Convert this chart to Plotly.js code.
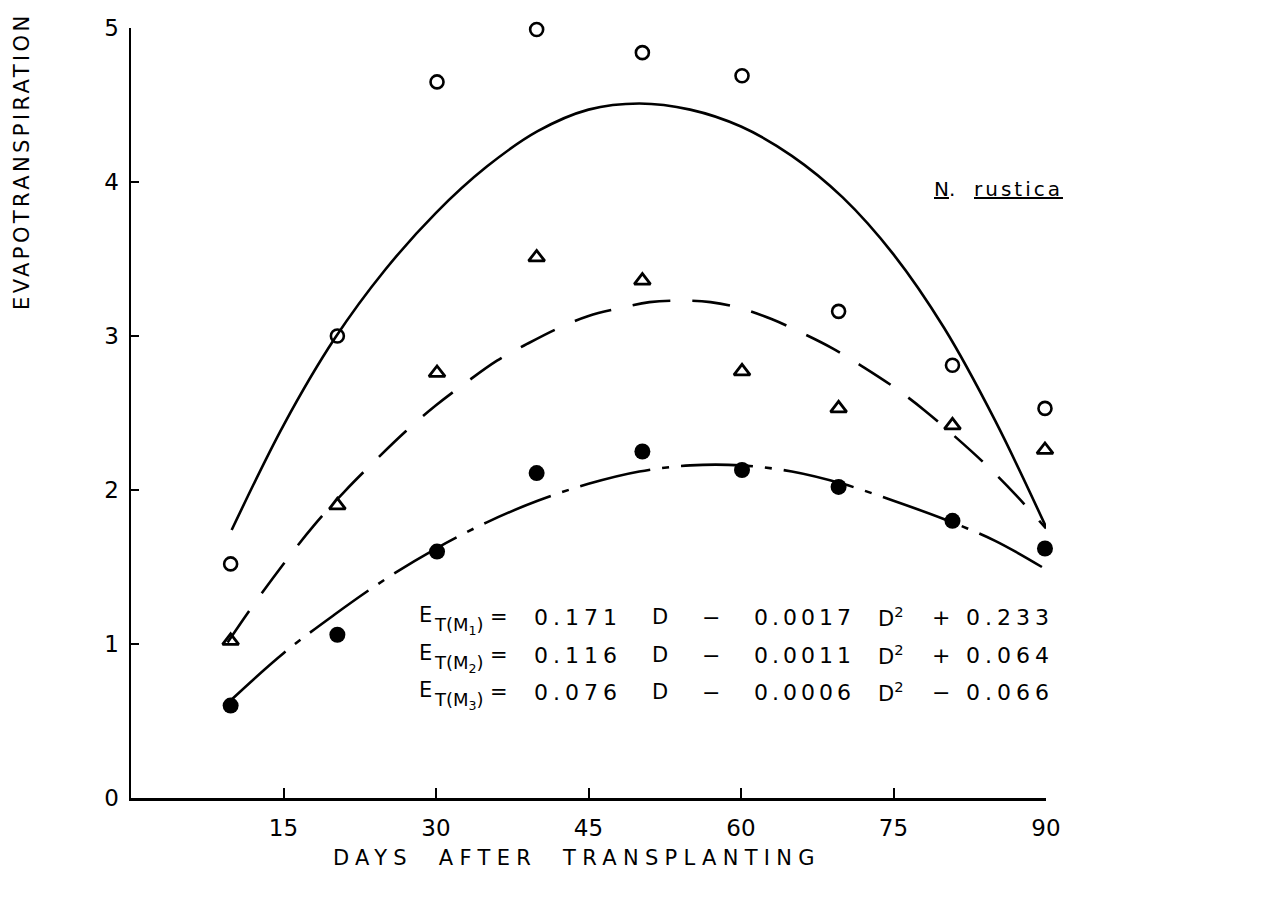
<!DOCTYPE html>
<html>
<head>
<meta charset="utf-8">
<script src="https://cdn.plot.ly/plotly-3.0.1.min.js"></script>
<style>
  html, body { margin: 0; padding: 0; background: #fff; }
  #chart { width: 1270px; height: 905px; }
</style>
</head>
<body>
<div id="chart"></div>
<script>
// ---- Observed data (days after transplanting) ----
const days = [9.8, 20.3, 30.1, 39.9, 50.3, 60.1, 69.6, 80.8, 89.9];
const etM1 = [1.52, 3.00, 4.65, 4.99, 4.84, 4.69, 3.16, 2.81, 2.53];
const etM2 = [1.02, 1.90, 2.76, 3.51, 3.36, 2.77, 2.53, 2.42, 2.26];
const etM3 = [0.60, 1.06, 1.60, 2.11, 2.25, 2.13, 2.02, 1.80, 1.62];

// ---- Fitted curves as drawn ----
const fitM1Days = [9.9, 15, 20, 25, 30, 35, 40, 45, 50, 55, 60, 65, 70, 75, 80, 85, 90];
const fitM1 = [1.74, 2.42, 2.98, 3.43, 3.80, 4.10, 4.33, 4.47, 4.51, 4.47, 4.36, 4.17, 3.90, 3.53, 3.05, 2.45, 1.76];
const fitM2Days = [9.5, 12, 15, 18, 21, 24, 27, 30, 33, 36, 39, 42, 45, 48, 51, 54, 57, 60, 63, 66, 69, 72, 75, 78, 81, 84, 87, 90];
const fitM2 = [1.01, 1.25, 1.52, 1.77, 1.99, 2.19, 2.38, 2.55, 2.70, 2.84, 2.95, 3.05, 3.13, 3.18, 3.22, 3.23, 3.22, 3.18, 3.11, 3.02, 2.92, 2.80, 2.67, 2.52, 2.35, 2.17, 1.97, 1.75];
const fitM3Days = [9.9, 15, 20, 25, 30, 35, 40, 45, 50, 55, 60, 65, 70, 75, 80, 85, 89.6];
const fitM3 = [0.64, 0.94, 1.19, 1.42, 1.62, 1.79, 1.93, 2.04, 2.12, 2.16, 2.16, 2.12, 2.04, 1.93, 1.81, 1.67, 1.50];

// ---- Tick labels ----
const xTicks = [15, 30, 45, 60, 75, 90];
const yTicks = [0, 1, 2, 3, 4, 5];

// ---- Text ----
const xTitle = 'DAYS  AFTER  TRANSPLANTING';
const yTitle = 'EVAPOTRANSPIRATION';
const plantLabel = ['N', 'rustica'];
const eqRows = [
  {sub: '1', c1: '0.171', c2: '0.0017', sign: '+', c0: '0.233'},
  {sub: '2', c1: '0.116', c2: '0.0011', sign: '+', c0: '0.064'},
  {sub: '3', c1: '0.076', c2: '0.0006', sign: '\u2212', c0: '0.066'}
];

const FONT = 'DejaVu Sans, Liberation Sans, sans-serif';
const L = 131, T = 28, R = 1046, B = 798;
const px = x => (x - L) / (R - L);
const py = y => (B - y) / (B - T);
const sp = (t, s) => '<span style="letter-spacing:' + s + 'px">' + t + '</span>';

const traces = [
  {x: fitM1Days, y: fitM1, mode: 'lines', line: {color: '#000', width: 2.6, shape: 'spline', smoothing: 1, dash: 'solid'}, hoverinfo: 'skip'},
  {x: fitM2Days, y: fitM2, mode: 'lines', line: {color: '#000', width: 2.6, shape: 'spline', smoothing: 1, dash: '38px,22px'}, hoverinfo: 'skip'},
  {x: fitM3Days, y: fitM3, mode: 'lines', line: {color: '#000', width: 2.6, shape: 'spline', smoothing: 1, dash: '72px,12px,7px,12px'}, hoverinfo: 'skip'},
  {x: days, y: etM1, mode: 'markers', marker: {symbol: 'circle-open', size: 13, color: '#000', line: {width: 2.6, color: '#000'}}, cliponaxis: false},
  {x: days, y: etM2, mode: 'markers', marker: {symbol: 'triangle-up-open', size: 14, color: '#000', line: {width: 2.8, color: '#000'}}, cliponaxis: false},
  {x: days, y: etM3, mode: 'markers', marker: {symbol: 'circle', size: 16, color: '#000'}, cliponaxis: false}
];

const ann = [];
function addText(text, x, y, size, xanchor) {
  ann.push({text: text, x: px(x), y: py(y), xref: 'paper', yref: 'paper', showarrow: false,
    xanchor: xanchor || 'left', yanchor: 'middle', font: {family: FONT, size: size, color: '#000'}});
}
const rowY = [617, 655, 692];
eqRows.forEach((r, i) => {
  const y = rowY[i];
  addText('E', 417, y - 2, 21);
  addText('T(M<sub>' + r.sub + '</sub>)', 432, y + 9, 18);
  addText('=', 488, y, 21);
  addText(sp(r.c1, 5), 532, y, 22);
  addText('D', 650, y, 21);
  addText('\u2212', 700, y, 22);
  addText(sp(r.c2, 4), 752, y, 22);
  addText('D<sup>2</sup>', 876, y, 21);
  addText(r.sign, 930, y, 22);
  addText(sp(r.c0, 5), 964, y, 22);
});
addText('<u>' + plantLabel[0] + '</u>.', 932, 189, 20);
addText('<u>' + sp(plantLabel[1], 3) + '</u>', 972, 189, 20);
// axis titles
ann.push({text: sp(xTitle, 6.3), x: px(577), y: py(858), xref: 'paper', yref: 'paper', showarrow: false,
  xanchor: 'center', yanchor: 'middle', font: {family: FONT, size: 21, color: '#000'}});
ann.push({text: sp(yTitle, 3.4), x: px(22), y: py(312), xref: 'paper', yref: 'paper', showarrow: false, textangle: -90,
  xanchor: 'center', yanchor: 'bottom', font: {family: FONT, size: 21, color: '#000'}});

const layout = {
  width: 1270, height: 905,
  margin: {l: L, r: 1270 - R, t: T, b: 905 - B, pad: 0},
  paper_bgcolor: '#fff', plot_bgcolor: '#fff',
  showlegend: false,
  xaxis: {range: [0, 90], tickvals: xTicks, ticktext: xTicks.map(String), ticks: 'inside', ticklen: 10, tickwidth: 2,
    tickcolor: '#000', showline: true, linecolor: '#000', linewidth: 2.5, showgrid: false, zeroline: false,
    ticklabelstandoff: 8, tickfont: {family: FONT, size: 23, color: '#000'}},
  yaxis: {range: [0, 5], tickvals: yTicks, ticktext: yTicks.map(String), ticks: 'inside', ticklen: 8, tickwidth: 2,
    tickcolor: '#000', showline: true, linecolor: '#000', linewidth: 2.5, showgrid: false, zeroline: false,
    ticklabelstandoff: 5, tickfont: {family: FONT, size: 23, color: '#000'}},
  annotations: ann
};

Plotly.newPlot('chart', traces, layout, {displayModeBar: false, staticPlot: true});
</script>
</body>
</html>
